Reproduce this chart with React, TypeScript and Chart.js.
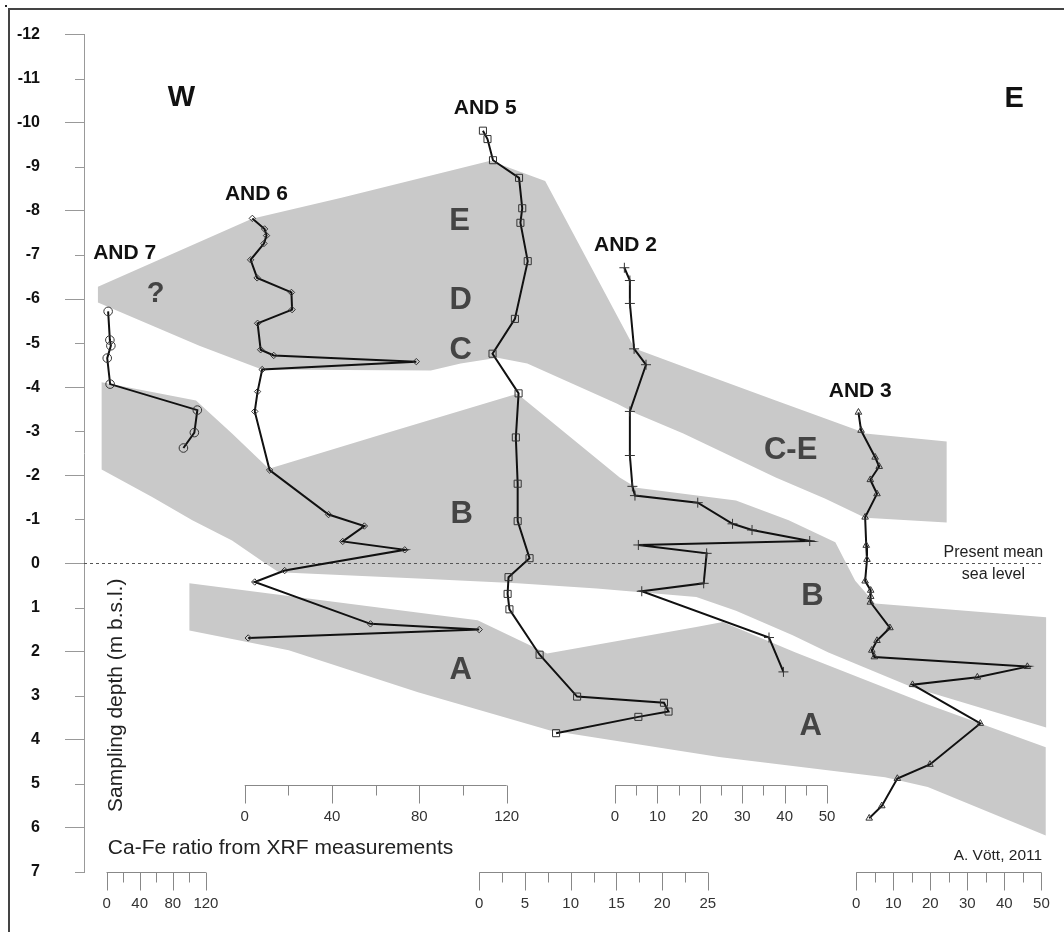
import React, { useEffect, useRef } from 'react';
import { Chart, registerables } from 'chart.js';

Chart.register(...registerables);

// ---------------- DATA ----------------
// Depth axis (m b.s.l.; negative values = above present sea level)
const depthMin = -12;
const depthMax = 7;

// AND 7 (circles)
const and7Depth = [-5.72, -5.07, -4.94, -4.66, -4.07, -3.48, -2.97, -2.62];
const and7Ratio = [1.9, 4.0, 5.2, 0.8, 4.3, 109.6, 106, 92.8];

// AND 6 (diamonds)
const and6Depth = [-7.83, -7.59, -7.44, -7.26, -6.89, -6.48, -6.15, -5.76, -5.45, -4.85, -4.72, -4.58, -4.4, -3.9, -3.45, -2.12, -1.11, -0.85, -0.5, -0.31, 0.16, 0.42, 1.37, 1.5, 1.69];
const and6Ratio = [3.5, 9.1, 10.0, 8.8, 2.7, 5.7, 21.4, 21.7, 5.9, 7.3, 13.3, 78.6, 8.0, 5.9, 4.6, 11.4, 38.4, 54.8, 44.9, 73.3, 18.3, 4.6, 57.6, 107.4, 1.6];

// AND 5 (squares)
const and5Depth = [-9.82, -9.63, -9.15, -8.75, -8.06, -7.73, -6.86, -5.55, -4.76, -3.86, -2.86, -1.81, -0.96, -0.12, 0.31, 0.69, 1.04, 2.07, 3.02, 3.16, 3.36, 3.48, 3.85];
const and5Ratio = [0.4, 0.9, 1.5, 4.35, 4.7, 4.5, 5.3, 3.9, 1.45, 4.3, 4.0, 4.2, 4.2, 5.5, 3.2, 3.1, 3.3, 6.6, 10.7, 20.2, 20.7, 17.4, 8.4];

// AND 2 (crosses)
const and2Depth = [-6.71, -6.42, -5.9, -4.87, -4.51, -3.45, -2.45, -1.75, -1.54, -1.38, -0.9, -0.76, -0.51, -0.42, -0.23, 0.45, 0.63, 1.68, 2.46];
const and2Ratio = [2.2, 3.5, 3.5, 4.5, 7.3, 3.5, 3.5, 4.1, 4.7, 19.5, 27.7, 32.3, 45.9, 5.5, 21.6, 20.9, 6.3, 36.3, 39.7];

// AND 3 (triangles)
const and3Depth = [-3.43, -3.02, -2.41, -2.2, -1.9, -1.58, -1.05, -0.41, -0.09, 0.4, 0.61, 0.75, 0.88, 1.46, 1.75, 1.97, 2.12, 2.34, 2.58, 2.75, 3.63, 4.56, 4.88, 5.5, 5.78];
const and3Ratio = [0.6, 1.3, 5.1, 6.2, 3.8, 5.6, 2.4, 2.7, 2.9, 2.4, 3.9, 3.9, 3.8, 9.1, 5.6, 4.2, 4.9, 46.2, 32.7, 15.2, 33.5, 19.9, 11.1, 6.9, 3.5];

// Schematic units along the W-E section (section position 0-100, depth m)
const unitEdcPos = [1.43, 17.24, 26.43, 41.73, 44.49, 47.35, 56.53, 62.14, 71.02, 79.49, 80.2, 88.57, 88.57, 80.2, 76.12, 71.02, 61.53, 56.73, 54.69, 45.51, 42.45, 38.67, 35.61, 18.27, 11.84, 1.43];
const unitEdcDepth = [-6.28, -7.82, -8.3, -9.14, -8.91, -8.68, -4.88, -4.42, -3.7, -3.02, -2.95, -2.77, -0.93, -1.04, -1.47, -1.95, -2.95, -3.4, -3.63, -4.54, -4.67, -4.54, -4.38, -4.4, -4.94, -5.92];

const unitBPos = [1.81, 11.5, 15.2, 18.98, 30.89, 44.49, 55.0, 56.73, 66.94, 72.35, 77.14, 79.18, 81.22, 98.78, 98.78, 84.97, 76.43, 72.76, 66.94, 62.86, 52.65, 44.49, 34.29, 20.0, 18.64, 15.2, 11.12, 7.04, 1.81];
const unitBDepth = [-4.11, -3.7, -2.95, -2.15, -2.95, -3.85, -1.95, -1.72, -1.43, -0.98, -0.48, 0.39, 0.91, 1.22, 3.72, 2.8, 2.02, 1.63, 1.07, 0.76, 0.57, 0.45, 0.34, 0.2, 0.0, -0.52, -0.98, -1.5, -2.13];

const unitAPos = [10.82, 40.41, 47.55, 62.86, 65.58, 73.06, 86.63, 98.74, 98.74, 86.63, 82.24, 65.2, 47.86, 34.29, 21.02, 10.82];
const unitADepth = [0.45, 1.29, 2.04, 1.44, 1.33, 2.02, 3.2, 4.17, 6.17, 5.07, 4.85, 4.39, 3.79, 2.92, 1.97, 1.52];

// Ca-Fe ratio scale bars
const scale120Ticks = [0, 20, 40, 60, 80, 100, 120];
const scale120Labels = [0, 40, 80, 120];
const scale25Ticks = [0, 2.5, 5, 7.5, 10, 12.5, 15, 17.5, 20, 22.5, 25];
const scale25Labels = [0, 5, 10, 15, 20, 25];
const scale50Ticks = [0, 5, 10, 15, 20, 25, 30, 35, 40, 45, 50];
const scale50Labels = [0, 10, 20, 30, 40, 50];

// ---------------- LAYOUT / STYLE ----------------
const W = 1064;
const H = 932;
const PLOT = { left: 84, top: 34, right: 1064, bottom: 872 };
const FONT = "'Liberation Sans', Arial, Helvetica, sans-serif";

const profiles = [
  { id: 'x7', depth: and7Depth, ratio: and7Ratio, zeroPx: 106.7, pxPerUnit: 100 / 120, barDepth: 7, ticks: scale120Ticks, labels: scale120Labels, style: 'circle', radius: 4.3 },
  { id: 'x6', depth: and6Depth, ratio: and6Ratio, zeroPx: 245.7, pxPerUnit: 263.6 / 120, barDepth: 5.03, ticks: scale120Ticks, labels: scale120Labels, style: 'rectRot', radius: 3.2 },
  { id: 'x5', depth: and5Depth, ratio: and5Ratio, zeroPx: 481.7, pxPerUnit: 230 / 25, barDepth: 7, ticks: scale25Ticks, labels: scale25Labels, style: 'rect', radius: 5 },
  { id: 'x2', depth: and2Depth, ratio: and2Ratio, zeroPx: 618.3, pxPerUnit: 213.4 / 50, barDepth: 5.03, ticks: scale50Ticks, labels: scale50Labels, style: 'cross', radius: 5 },
  { id: 'x3', depth: and3Depth, ratio: and3Ratio, zeroPx: 861, pxPerUnit: 186.3 / 50, barDepth: 7, ticks: scale50Ticks, labels: scale50Labels, style: 'triangle', radius: 3.8 },
];

const units = [
  { pos: unitEdcPos, depth: unitEdcDepth },
  { pos: unitBPos, depth: unitBDepth },
  { pos: unitAPos, depth: unitADepth },
];

const BIG = `bold 31px ${FONT}`;
const annotations = [
  { t: 'W', u: 10.0, d: -10.57, font: `bold 29px ${FONT}`, color: '#111' },
  { t: 'E', u: 95.5, d: -10.54, font: `bold 29px ${FONT}`, color: '#111' },
  { t: 'AND 7', u: 4.18, d: -7.03, font: `bold 21px ${FONT}`, color: '#111' },
  { t: 'AND 6', u: 17.7, d: -8.38, font: `bold 21px ${FONT}`, color: '#111' },
  { t: 'AND 5', u: 41.2, d: -10.32, font: `bold 21px ${FONT}`, color: '#111' },
  { t: 'AND 2', u: 55.6, d: -7.23, font: `bold 21px ${FONT}`, color: '#111' },
  { t: 'AND 3', u: 79.7, d: -3.92, font: `bold 21px ${FONT}`, color: '#111' },
  { t: '?', u: 7.35, d: -6.12, font: `bold 29px ${FONT}`, color: '#444' },
  { t: 'E', u: 38.57, d: -7.76, font: BIG, color: '#444' },
  { t: 'D', u: 38.67, d: -5.96, font: BIG, color: '#444' },
  { t: 'C', u: 38.67, d: -4.83, font: BIG, color: '#444' },
  { t: 'B', u: 38.78, d: -1.11, font: BIG, color: '#444' },
  { t: 'A', u: 38.67, d: 2.43, font: BIG, color: '#444' },
  { t: 'B', u: 74.8, d: 0.75, font: BIG, color: '#444' },
  { t: 'A', u: 74.6, d: 3.7, font: BIG, color: '#444' },
  { t: 'C-E', u: 72.55, d: -2.56, font: BIG, color: '#444' },
  { t: 'Present mean', u: 93.37, d: -0.25, font: `16px ${FONT}`, color: '#222' },
  { t: 'sea level', u: 93.37, d: 0.25, font: `16px ${FONT}`, color: '#222' },
];

const decorPlugin = {
  id: 'decor',
  afterDatasetDraw(chart: any, args: any) {
    if (args.index !== 0) return;
    const ctx = chart.ctx;
    const xs = chart.scales.xs;
    const y = chart.scales.y;
    ctx.save();
    // present mean sea level
    ctx.strokeStyle = '#555';
    ctx.lineWidth = 1;
    ctx.setLineDash([3, 3]);
    ctx.beginPath();
    const y0 = Math.round(y.getPixelForValue(0)) + 0.5;
    ctx.moveTo(xs.getPixelForValue(0), y0);
    ctx.lineTo(xs.getPixelForValue(98.37), y0);
    ctx.stroke();
    ctx.setLineDash([]);
    // text annotations
    ctx.textAlign = 'center';
    ctx.textBaseline = 'middle';
    annotations.forEach((a) => {
      ctx.font = a.font;
      ctx.fillStyle = a.color;
      ctx.fillText(a.t, xs.getPixelForValue(a.u), y.getPixelForValue(a.d));
    });
    ctx.restore();
  },
  afterDraw(chart: any) {
    const ctx = chart.ctx;
    const xs = chart.scales.xs;
    const y = chart.scales.y;
    ctx.save();
    // short ticks at odd depths
    ctx.strokeStyle = '#999';
    ctx.lineWidth = 1;
    for (let v = depthMin; v <= depthMax; v++) {
      if (Math.abs(v) % 2 === 1) {
        const py = Math.round(y.getPixelForValue(v)) + 0.5;
        ctx.beginPath();
        ctx.moveTo(chart.chartArea.left - 9, py);
        ctx.lineTo(chart.chartArea.left, py);
        ctx.stroke();
      }
    }
    // scale bars
    profiles.forEach((p) => {
      const sc = chart.scales[p.id];
      const by = Math.round(y.getPixelForValue(p.barDepth)) + 0.5;
      ctx.strokeStyle = '#888';
      ctx.lineWidth = 1;
      ctx.beginPath();
      ctx.moveTo(sc.getPixelForValue(p.ticks[0]), by);
      ctx.lineTo(sc.getPixelForValue(p.ticks[p.ticks.length - 1]), by);
      p.ticks.forEach((t) => {
        const tx = Math.round(sc.getPixelForValue(t)) + 0.5;
        const len = p.labels.includes(t) ? 18 : 10;
        ctx.moveTo(tx, by);
        ctx.lineTo(tx, by + len);
      });
      ctx.stroke();
      ctx.fillStyle = '#333';
      ctx.font = `15px ${FONT}`;
      ctx.textAlign = 'center';
      ctx.textBaseline = 'middle';
      p.labels.forEach((t) => {
        ctx.fillText(String(t), sc.getPixelForValue(t), by + 31);
      });
    });
    // axis titles and credit
    ctx.fillStyle = '#222';
    ctx.font = `21px ${FONT}`;
    ctx.textAlign = 'left';
    ctx.textBaseline = 'middle';
    ctx.fillText('Ca-Fe ratio from XRF measurements', xs.getPixelForValue(2.45), y.getPixelForValue(6.46));
    ctx.font = `15.5px ${FONT}`;
    ctx.textAlign = 'right';
    ctx.fillText('A. Vött, 2011', xs.getPixelForValue(98.37), y.getPixelForValue(6.64));
    ctx.save();
    ctx.translate(xs.getPixelForValue(3.27), y.getPixelForValue(2.99));
    ctx.rotate(-Math.PI / 2);
    ctx.textAlign = 'center';
    ctx.font = `21px ${FONT}`;
    ctx.fillText('Sampling depth (m b.s.l.)', 0, 0);
    ctx.restore();
    // frame
    ctx.strokeStyle = '#444';
    ctx.lineWidth = 2;
    ctx.beginPath();
    ctx.moveTo(9, H);
    ctx.lineTo(9, 9);
    ctx.lineTo(W, 9);
    ctx.stroke();
    ctx.fillStyle = '#222';
    ctx.fillRect(5, 5, 2, 2);
    ctx.restore();
  },
};

export default function App() {
  const canvasRef = useRef<HTMLCanvasElement | null>(null);

  useEffect(() => {
    if (!canvasRef.current) return;
    Chart.defaults.font.family = FONT;

    const scales: any = {
      y: {
        type: 'linear',
        position: 'left',
        min: depthMin,
        max: depthMax,
        reverse: true,
        afterFit: (s: any) => {
          s.width = PLOT.left;
        },
        ticks: {
          stepSize: 1,
          autoSkip: false,
          padding: 25,
          color: '#111',
          font: { size: 16, weight: 'bold', family: FONT },
        },
        grid: {
          drawOnChartArea: false,
          drawTicks: true,
          tickLength: 19,
          tickWidth: 1,
          tickColor: (c: any) => (c.tick && Math.abs(c.tick.value) % 2 === 0 ? '#999' : 'rgba(0,0,0,0)'),
        },
        border: { display: true, color: '#999', width: 1 },
      },
      xs: { type: 'linear', min: 0, max: 100, display: false },
    };
    const plotW = PLOT.right - PLOT.left;
    profiles.forEach((p) => {
      const min = (PLOT.left - p.zeroPx) / p.pxPerUnit;
      scales[p.id] = { type: 'linear', min, max: min + plotW / p.pxPerUnit, display: false };
    });

    const datasets: any[] = [];
    units.forEach((u) => {
      datasets.push({
        type: 'line',
        xAxisID: 'xs',
        yAxisID: 'y',
        data: u.pos.map((x, i) => ({ x, y: u.depth[i] })),
        fill: 'shape',
        backgroundColor: '#c9c9c9',
        borderColor: 'rgba(0,0,0,0)',
        borderWidth: 1,
        pointRadius: 0,
        tension: 0,
        order: 10,
      });
    });
    profiles.forEach((p) => {
      datasets.push({
        type: 'line',
        xAxisID: p.id,
        yAxisID: 'y',
        data: p.ratio.map((r, i) => ({ x: r, y: p.depth[i] })),
        fill: false,
        borderColor: '#111',
        borderWidth: 2,
        tension: 0,
        pointStyle: p.style,
        pointRadius: p.radius,
        pointBorderColor: '#333',
        pointBorderWidth: 1,
        pointBackgroundColor: 'rgba(0,0,0,0)',
        order: 0,
      });
    });

    const chart = new Chart(canvasRef.current, {
      type: 'line',
      data: { datasets },
      options: {
        animation: false,
        responsive: true,
        maintainAspectRatio: false,
        events: [],
        layout: { padding: { left: 0, right: W - PLOT.right, top: PLOT.top, bottom: H - PLOT.bottom } },
        plugins: { legend: { display: false }, tooltip: { enabled: false } },
        scales,
      },
      plugins: [decorPlugin],
    } as any);
    return () => chart.destroy();
  }, []);

  return (
    <div style={{ position: 'fixed', left: 0, top: 0, width: W, height: H, background: '#fff' }}>
      <canvas ref={canvasRef} />
    </div>
  );
}
